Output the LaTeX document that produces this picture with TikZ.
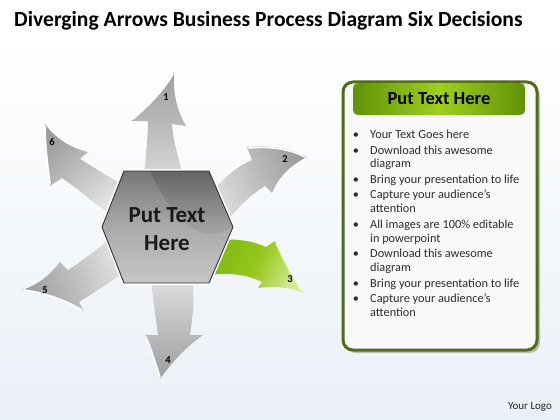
\documentclass[tikz,border=0pt]{standalone}
\usepackage{fontspec}
\setmainfont{Carlito}
\begin{document}
\begin{tikzpicture}[x=1pt,y=-1pt]
\definecolor{bgbot}{RGB}{234,240,247}
\definecolor{alight}{RGB}{228,228,228}
\definecolor{amid}{RGB}{192,192,192}
\definecolor{adark}{RGB}{158,158,158}
\definecolor{glight}{RGB}{214,234,150}
\definecolor{gmid}{RGB}{150,200,30}
\definecolor{gdark}{RGB}{128,186,16}
\definecolor{hexdark}{RGB}{100,100,100}
\definecolor{hexlight}{RGB}{190,190,190}
\definecolor{panelborder}{RGB}{80,108,22}
\definecolor{headedge}{RGB}{96,146,8}
\definecolor{headmid}{RGB}{158,208,28}
\definecolor{bodytext}{RGB}{45,45,45}
\tikzset{
  grayarrow/.style={top color=adark, bottom color=alight, middle color=amid, shading angle=#1},
  greenarrow/.style={top color=glight, bottom color=gdark, middle color=gmid, shading angle=#1},
  headhl/.style={draw=white, line width=1.6, line cap=round},
  numlabel/.style={font=\fontsize{10.5}{12}\selectfont\bfseries, text=black, inner sep=0},
  bullettext/.style={font=\fontsize{12.3}{14}\selectfont, text=bodytext, anchor=base west, inner sep=0},
  bulletdot/.style={font=\fontsize{12.3}{14}\selectfont, text=bodytext, anchor=base, inner sep=0},
}
% background
\useasboundingbox (0,0) rectangle (560,420);
\shade[top color=white, bottom color=bgbot] (0,40) rectangle (560,420);
\fill[white] (0,0) rectangle (560,40);

% title
\node[anchor=base west, inner sep=0, font=\fontsize{21.6}{26}\selectfont\bfseries, text=black] (title) at (14,27) {Diverging Arrows Business Process Diagram Six Decisions};

% arrow 1 (up)
\shade[grayarrow=0] (142,200) .. controls (145,160) and (148,140) .. (148,121) -- (131,121) .. controls (148,106) and (164,90) .. (174,72) .. controls (173,95) and (177,110) .. (186,126) -- (172,124) .. controls (174,150) and (182,165) .. (188,200) -- cycle;
\draw[headhl] (133,119) .. controls (149,105) and (164,90) .. (173,74);
% arrow 2 (upper right)
\shade[grayarrow=-65] (205,200) .. controls (225,175) and (240,165) .. (252,160) -- (247,147) .. controls (270,145) and (290,148) .. (307,157) .. controls (290,165) and (278,178) .. (272,193) -- (265,186) .. controls (250,195) and (235,210) .. (222,228) -- cycle;
\draw[headhl] (249,148) .. controls (270,146) and (290,149) .. (305,157);
% arrow 3 (green, lower right)
\shade[greenarrow=-116] (215,240) .. controls (240,238) and (255,242) .. (266,247) -- (275,241) .. controls (283,260) and (293,278) .. (304,293) .. controls (290,287) and (272,286) .. (258,288) -- (262,282) .. controls (248,275) and (230,272) .. (210,275) -- cycle;
\draw[draw=white!60!glight, line width=1.4, line cap=round] (276,243) .. controls (284,261) and (293,278) .. (302,291);
% arrow 4 (down)
\shade[grayarrow=180] (150,270) .. controls (153,300) and (156,320) .. (158,335) -- (145,335) .. controls (152,350) and (156,365) .. (160,379) .. controls (172,362) and (185,348) .. (203,335) -- (190,335) .. controls (193,315) and (195,295) .. (192,270) -- cycle;
\draw[headhl] (146,337) .. controls (152,351) and (156,365) .. (160,377);
% arrow 5 (lower left)
\shade[grayarrow=110] (110,238) .. controls (95,252) and (80,262) .. (68,270) -- (60,262) .. controls (50,275) and (38,285) .. (22,290) .. controls (45,293) and (65,300) .. (84,311) -- (79,302) .. controls (95,292) and (110,282) .. (128,270) -- cycle;
\draw[headhl] (24,290) .. controls (46,293) and (65,300) .. (82,310);
% arrow 6 (upper left)
\shade[grayarrow=43] (122,184) .. controls (105,175) and (92,166) .. (80,159) -- (88,152) .. controls (70,148) and (55,138) .. (45,124) .. controls (45,145) and (48,168) .. (50,186) -- (62,178) .. controls (80,190) and (95,205) .. (112,215) -- cycle;
\draw[headhl] (45,126) .. controls (45,146) and (48,167) .. (50,184);

% number labels
\node[numlabel] (n1) at (166,97) {1};
\node[numlabel] (n2) at (285,159) {2};
\node[numlabel] (n3) at (290,279) {3};
\node[numlabel] (n4) at (168,360) {4};
\node[numlabel] (n5) at (45,290) {5};
\node[numlabel] (n6) at (52,142) {6};

% hexagon
\draw[white, line width=4, line join=round] (102,227) -- (124,171) -- (209,171) -- (233,227) -- (209,283) -- (124,283) -- cycle;
\shade[top color=hexdark, bottom color=hexlight, middle color=gray!75!white] (102,227) -- (124,171) -- (209,171) -- (233,227) -- (209,283) -- (124,283) -- cycle;
\fill[white, opacity=0.12] (102,227) -- (124,171) -- (150,171) .. controls (170,215) and (200,250) .. (233,227) -- (209,283) -- (124,283) -- cycle;
\draw[gray!40!black, line width=0.9, line join=round] (102,227) -- (124,171) -- (209,171) -- (233,227) -- (209,283) -- (124,283) -- cycle;
\node[align=center, inner sep=0, font=\fontsize{23}{28}\selectfont\bfseries, text={black!90}] (hex) at (167,229) {Put Text\\Here};

% right panel
\fill[black, opacity=0.22, rounded corners=10] (345,85) rectangle (540,353);
\filldraw[draw=panelborder, line width=3, fill={rgb,255:red,249;green,249;blue,249}, rounded corners=10] (343,82) rectangle (537,350);
\shade[left color=headedge, right color=headedge, middle color=headmid, rounded corners=5] (353,83) rectangle (525,115);
\node[inner sep=0, font=\fontsize{18.5}{22}\selectfont\bfseries, text=black] (ptitle) at (439,99) {Put Text Here};

% bullets
\foreach \y [count=\i] in {138,154,183,198,228,257,287,302} {
  \node[bulletdot] (b\i) at (356,\y) {•};
}
\node[bullettext] (t1) at (370,138) {Your Text Goes here};
\node[bullettext] (t2) at (370,154) {Download this awesome};
\node[bullettext] (t3) at (370,167.5) {diagram};
\node[bullettext] (t4) at (370,183) {Bring your presentation to life};
\node[bullettext] (t5) at (370,198) {Capture your audience’s};
\node[bullettext] (t6) at (370,212) {attention};
\node[bullettext] (t7) at (370,228) {All images are 100\% editable};
\node[bullettext] (t8) at (370,242) {in powerpoint};
\node[bullettext] (t9) at (370,257) {Download this awesome};
\node[bullettext] (t10) at (370,271) {diagram};
\node[bullettext] (t11) at (370,287) {Bring your presentation to life};
\node[bullettext] (t12) at (370,302) {Capture your audience’s};
\node[bullettext] (t13) at (370,316) {attention};

% logo
\node[inner sep=0, font=\fontsize{11}{13}\selectfont, text=black!85] (logo) at (530,407) {Your Logo};
\end{tikzpicture}
\end{document}
